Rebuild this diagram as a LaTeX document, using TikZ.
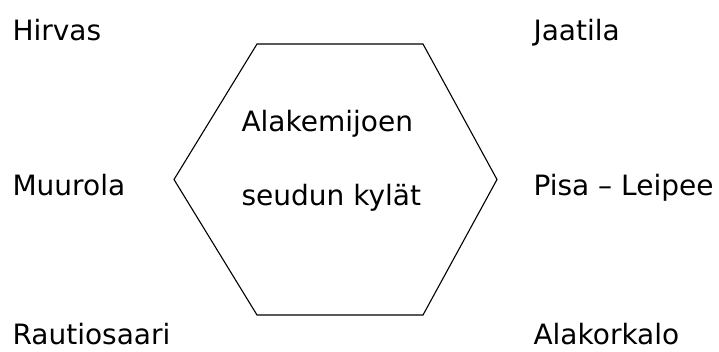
\documentclass[tikz,border=0pt]{standalone}
\usepackage{fontspec}
\setmainfont{DejaVu Sans}
\tikzset{
  village/.style={anchor=base west, inner sep=0pt, font=\fontsize{28}{33}\selectfont},
}
\begin{document}
\begin{tikzpicture}[x=1pt, y=-1pt, line width=1.1pt]
	% 1. picture frame
	\useasboundingbox (0,0) rectangle (719,351);

	% 2. hexagon
	\coordinate (tl) at (257,44);
	\coordinate (tr) at (423,44);
	\coordinate (r) at (497,179.5);
	\coordinate (br) at (423,315);
	\coordinate (bl) at (257,315);
	\coordinate (l) at (174,179.5);
	\draw[line join=miter] (tl) -- (tr) -- (r) -- (br) -- (bl) -- (l) -- cycle;

	% centre text
	\node[village] (title1) at (241,131.5) {Alakemijoen};
	\node[village] (title2) at (241,205) {seudun kylät};

	% 3. villages, left column
	\node[village] (hirvas) at (12,40.5) {Hirvas};
	\node[village] (muurola) at (12,195) {Muurola};
	\node[village] (rautio) at (12,344) {Rautiosaari};

	% villages, right column
	\node[village] (jaatila) at (533,40.5) {Jaatila};
	\node[village] (pisa) at (533,195) {Pisa – Leipee};
	\node[village] (alakorkalo) at (533,344) {Alakorkalo};
\end{tikzpicture}
\end{document}
